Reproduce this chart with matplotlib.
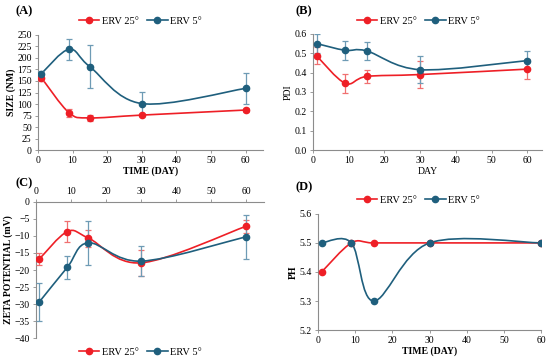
import matplotlib
matplotlib.use("Agg")
import matplotlib.pyplot as plt
import numpy as np
from matplotlib.path import Path
from matplotlib.patches import PathPatch
from matplotlib.lines import Line2D

plt.rcParams["font.family"] = ["Liberation Serif", "DejaVu Serif"]

RED = "#EE1F26"
BLUE = "#1F5F7D"
RED_ERR = "#F07070"
BLUE_ERR = "#6E9BB5"
AXIS = "#8C8C8C"

days = [1, 9, 15, 30, 60]

size_25 = [157, 81, 70, 76, 87]
size_25_err = [8, 9, 6, 3, 5]
size_5 = [166, 219, 181, 101, 134]
size_5_err = [5, 23, 47, 25, 33]

pdi_25 = [0.487, 0.345, 0.380, 0.390, 0.418]
pdi_25_err = [0.045, 0.05, 0.035, 0.07, 0.05]
pdi_5 = [0.550, 0.515, 0.512, 0.415, 0.462]
pdi_5_err = [0.05, 0.05, 0.045, 0.07, 0.05]

zeta_25 = [-16.8, -8.7, -10.6, -17.9, -7.1]
zeta_25_err = [1.8, 3.0, 2.5, 3.8, 1.9]
zeta_5 = [-29.4, -19.2, -12.0, -17.4, -10.2]
zeta_5_err = [5.5, 3.3, 6.4, 4.4, 6.5]

ph_25 = [5.4, 5.5, 5.5, 5.5, 5.5]
ph_5 = [5.5, 5.5, 5.3, 5.5, 5.5]

labels = ["ERV 25°", "ERV 5°"]


def smooth_line(ax, x, y, color):
    # Excel-style smoothed line: Bezier segments through the points
    x = np.asarray(x, float)
    y = np.asarray(y, float)
    # work in axes-normalised space so the smoothing looks like Excel's
    x0, x1 = ax.get_xlim()
    y0, y1 = ax.get_ylim()
    px = (x - x0) / (x1 - x0)
    py = (y - y0) / (y1 - y0)
    n = len(px)
    verts = [(px[0], py[0])]
    codes = [Path.MOVETO]
    for i in range(n - 1):
        p0 = np.array([px[max(i - 1, 0)], py[max(i - 1, 0)]])
        p1 = np.array([px[i], py[i]])
        p2 = np.array([px[i + 1], py[i + 1]])
        p3 = np.array([px[min(i + 2, n - 1)], py[min(i + 2, n - 1)]])
        c1 = p1 + (p2 - p0) / 6
        c2 = p2 - (p3 - p1) / 6
        verts += [tuple(c1), tuple(c2), tuple(p2)]
        codes += [Path.CURVE4] * 3
    patch = PathPatch(Path(verts, codes), facecolor="none", edgecolor=color,
                      lw=1.2, transform=ax.transAxes, zorder=2)
    ax.add_patch(patch)


def style_axis(ax, top=False):
    for s in ["right", "top", "left", "bottom"]:
        ax.spines[s].set_visible(False)
    ax.spines["left"].set_visible(True)
    ax.spines["top" if top else "bottom"].set_visible(True)
    for s in ["left", "top", "bottom"]:
        ax.spines[s].set_color(AXIS)
        ax.spines[s].set_linewidth(0.8)
    ax.tick_params(labelsize=7, length=2.5, width=0.6, color=AXIS, pad=2)
    if top:
        ax.xaxis.tick_top()


def draw(ax, y25, y5, e25=None, e5=None):
    for y, e, c, ec in [(y25, e25, RED, RED_ERR), (y5, e5, BLUE, BLUE_ERR)]:
        smooth_line(ax, days, y, c)
        if e is not None:
            ax.errorbar(days, y, yerr=e, fmt="none", ecolor=ec, elinewidth=0.9,
                        capsize=2, capthick=0.9, zorder=3)
        ax.plot(days, y, "o", color=c, ms=4.5, zorder=4)


def legend(fig, cx, cy):
    handles = [Line2D([], [], color=RED, marker="o", ms=4.5, lw=1.2),
               Line2D([], [], color=BLUE, marker="o", ms=4.5, lw=1.2)]
    fig.legend(handles, labels, loc="center", bbox_to_anchor=(cx / 550, 1 - cy / 360),
               ncol=2, frameon=False, fontsize=7.5, handlelength=2.0,
               handletextpad=0.2, columnspacing=0.8, borderaxespad=0)


fig = plt.figure(figsize=(5.5, 3.6), dpi=100)

# (A)
axA = fig.add_axes([0.069, 0.583, 0.409, 0.320])
axA.set_xlim(0, 65)
axA.set_ylim(0, 250)
axA.set_xticks(range(0, 61, 10))
axA.set_yticks(range(0, 251, 25))
style_axis(axA)
draw(axA, size_25, size_5, size_25_err, size_5_err)
axA.set_xlabel("TIME (DAY)", fontsize=7, fontweight="bold", labelpad=1)
axA.set_ylabel("SIZE (NM)", fontsize=7, fontweight="bold", labelpad=1)
fig.text(16 / 550, 1 - 11 / 360, "(A)", fontsize=9, fontweight="bold", va="center")
legend(fig, 140, 21)

# (B)
axB = fig.add_axes([0.569, 0.583, 0.416, 0.323])
axB.set_xlim(0, 64)
axB.set_ylim(0, 0.6)
axB.set_xticks(range(0, 61, 10))
axB.set_yticks(np.arange(0, 0.61, 0.1))
axB.yaxis.set_major_formatter(matplotlib.ticker.FormatStrFormatter("%.1f"))
style_axis(axB)
draw(axB, pdi_25, pdi_5, pdi_25_err, pdi_5_err)
axB.set_xlabel("DAY", fontsize=7, labelpad=1)
axB.set_ylabel("PDI", fontsize=7, labelpad=1)
fig.text(296 / 550, 1 - 11 / 360, "(B)", fontsize=9, fontweight="bold", va="center")
legend(fig, 418, 21)

# (C)
axC = fig.add_axes([0.065, 0.061, 0.415, 0.378])
axC.set_xlim(0, 65)
axC.set_ylim(-40, 0)
axC.set_xticks(range(0, 61, 10))
axC.set_yticks(range(-40, 1, 5))
style_axis(axC, top=True)
draw(axC, zeta_25, zeta_5, zeta_25_err, zeta_5_err)
axC.set_ylabel("ZETA POTENTIAL (mV)", fontsize=7, fontweight="bold", labelpad=1)
fig.text(16 / 550, 1 - 183 / 360, "(C)", fontsize=9, fontweight="bold", va="center")
legend(fig, 140, 352)

# (D)
axD = fig.add_axes([0.578, 0.083, 0.406, 0.323])
axD.set_xlim(0, 60)
axD.set_ylim(5.2, 5.6)
axD.set_xticks(range(0, 61, 10))
axD.set_yticks(np.arange(5.2, 5.61, 0.1))
axD.yaxis.set_major_formatter(matplotlib.ticker.FormatStrFormatter("%.1f"))
style_axis(axD)
draw(axD, ph_25, ph_5)
axD.set_xlabel("TIME (DAY)", fontsize=7, fontweight="bold", labelpad=1)
axD.set_ylabel("PH", fontsize=7, fontweight="bold", labelpad=1)
fig.text(296 / 550, 1 - 187 / 360, "(D)", fontsize=9, fontweight="bold", va="center")
legend(fig, 418, 200)

fig.savefig("out.png", dpi=100)
plt.close(fig)
